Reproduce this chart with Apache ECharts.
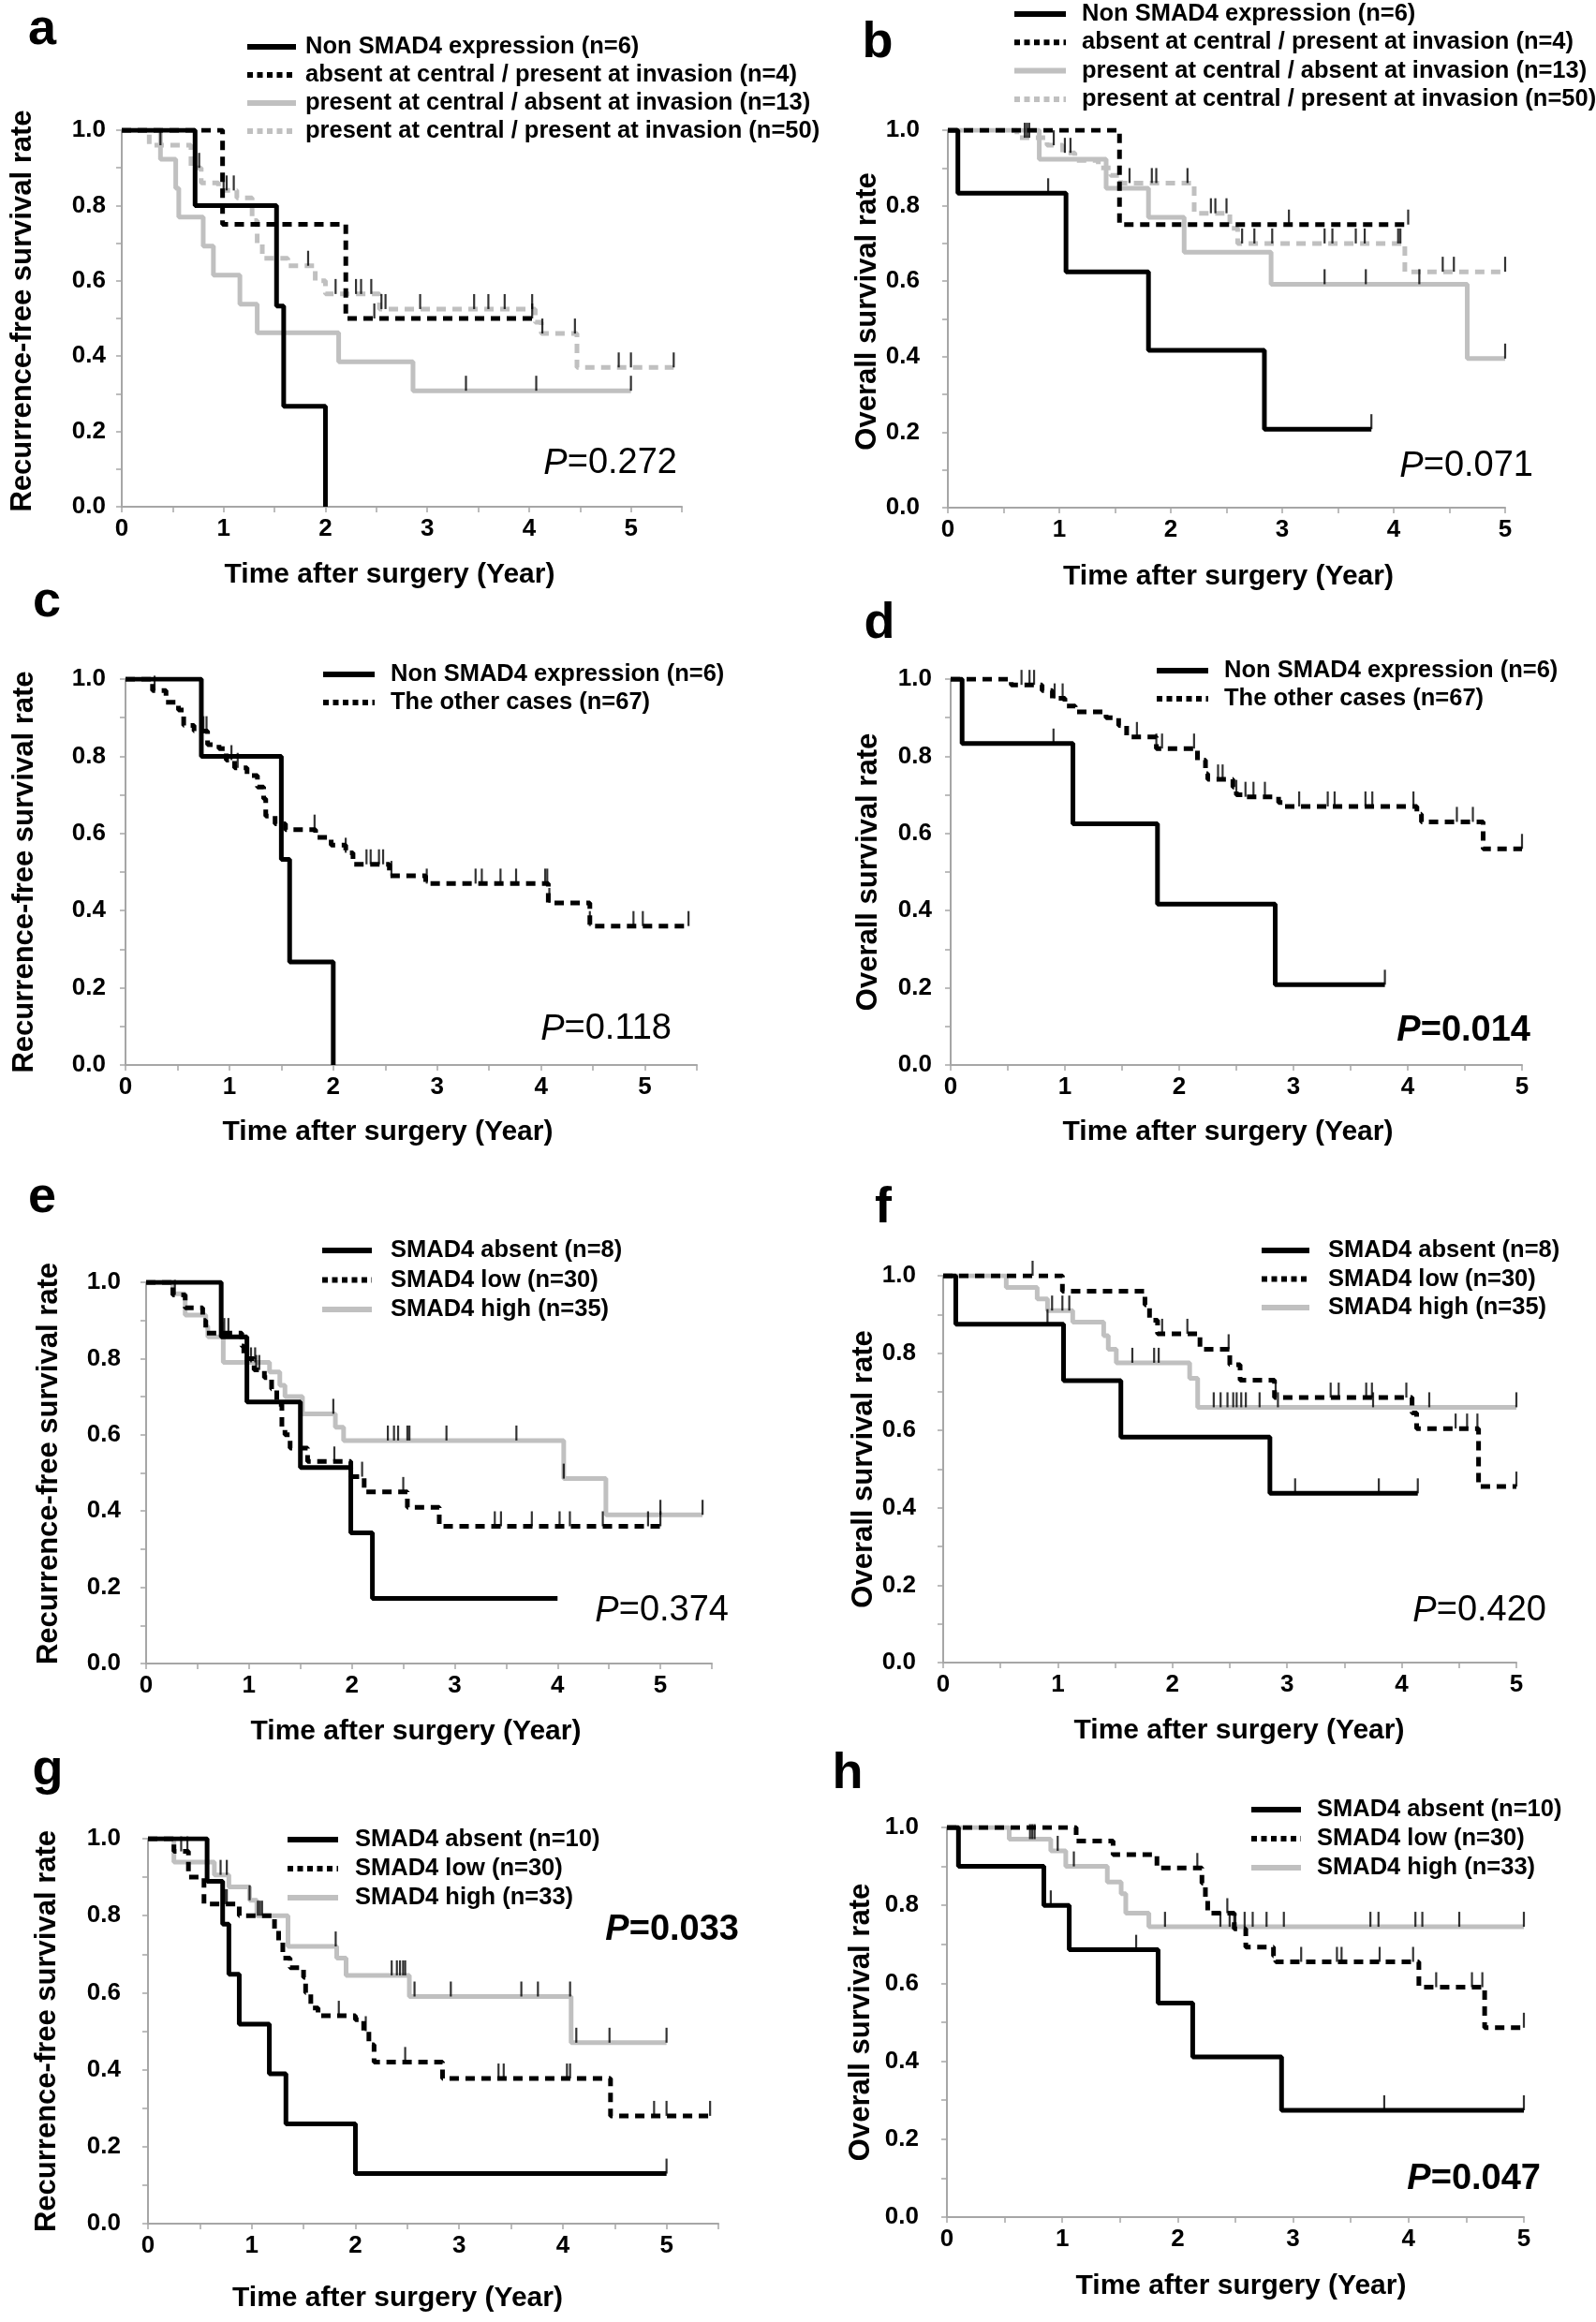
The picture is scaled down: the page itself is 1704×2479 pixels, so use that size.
<!DOCTYPE html>
<html><head><meta charset="utf-8">
<script src="https://cdn.jsdelivr.net/npm/echarts/dist/echarts.min.js"></script>
<style>html,body{margin:0;padding:0;background:#fff}#c{width:1704px;height:2479px}</style>
</head><body><div id="c"></div>
<script>
// ---------------- DATA (Kaplan–Meier step points: time T, survival S, censor times C) ----------------
// a: RFS, four groups
const A_non_T = [0, 0.72, 1.52, 1.59, 2.0];
const A_non_S = [1, 0.8, 0.533, 0.267, 0];
const A_non_C = [];
const A_abs_T = [0, 0.99, 2.2, 4.03];
const A_abs_S = [1, 0.75, 0.5, 0.5];
const A_abs_C = [2.48, 4.03];
const A_pca_T = [0, 0.38, 0.53, 0.56, 0.8, 0.9, 1.16, 1.33, 2.13, 2.86, 5.0];
const A_pca_S = [1, 0.923, 0.846, 0.769, 0.692, 0.615, 0.538, 0.462, 0.385, 0.308, 0.308];
const A_pca_C = [3.38, 4.07, 5.0];
const A_pp_T = [0, 0.27, 0.68, 0.78, 0.95, 1.13, 1.28, 1.33, 1.38, 1.63, 1.9, 2.0, 2.53, 4.06, 4.12, 4.47, 5.42];
const A_pp_S = [1, 0.96, 0.90, 0.86, 0.84, 0.82, 0.76, 0.70, 0.66, 0.64, 0.60, 0.565, 0.525, 0.49, 0.46, 0.37, 0.37];
const A_pp_C = [0.38, 0.72, 0.76, 1.0, 1.03, 1.1, 1.83, 2.1, 2.3, 2.35, 2.45, 2.55, 2.59, 2.93, 3.46, 3.6, 3.76, 4.03, 4.13, 4.45, 4.88, 5.0, 5.42];
// b: OS, four groups
const B_non_T = [0, 0.09, 1.06, 1.8, 2.84, 3.8];
const B_non_S = [1, 0.833, 0.625, 0.417, 0.208, 0.208];
const B_non_C = [0.9, 3.8];
const B_abs_T = [0, 1.54, 4.13];
const B_abs_S = [1, 0.75, 0.75];
const B_abs_C = [3.06, 4.13];
const B_pca_T = [0, 0.82, 1.42, 1.8, 2.12, 2.9, 4.66, 5.0];
const B_pca_S = [1, 0.923, 0.846, 0.769, 0.677, 0.592, 0.395, 0.395];
const B_pca_C = [3.38, 3.75, 4.23, 5.0];
const B_pp_T = [0, 0.62, 0.89, 1.03, 1.14, 1.35, 1.46, 1.55, 2.21, 2.53, 2.6, 4.1, 5.0];
const B_pp_S = [1, 0.98, 0.96, 0.94, 0.92, 0.90, 0.88, 0.86, 0.78, 0.74, 0.70, 0.625, 0.625];
const B_pp_C = [0.69, 0.71, 0.73, 0.95, 1.05, 1.1, 1.63, 1.83, 1.87, 2.15, 2.36, 2.4, 2.5, 2.64, 2.75, 2.91, 3.38, 3.45, 3.66, 3.74, 4.04, 4.06, 4.44, 4.54, 5.0];
// c: RFS, two groups
const C_non_T = [0, 0.73, 1.5, 1.58, 2.0];
const C_non_S = [1, 0.8, 0.533, 0.267, 0];
const C_non_C = [];
const C_oth_T = [0, 0.26, 0.39, 0.51, 0.56, 0.66, 0.79, 0.9, 0.97, 1.05, 1.17, 1.27, 1.33, 1.35, 1.44, 1.54, 1.83, 1.98, 2.12, 2.19, 2.54, 2.89, 4.07, 4.47, 5.42];
const C_oth_S = [1, 0.97, 0.94, 0.92, 0.88, 0.865, 0.83, 0.82, 0.79, 0.77, 0.75, 0.72, 0.69, 0.645, 0.625, 0.61, 0.59, 0.57, 0.55, 0.52, 0.49, 0.47, 0.42, 0.36, 0.36];
const C_oth_C = [0.28, 0.75, 0.78, 1.02, 1.08, 1.82, 2.12, 2.32, 2.36, 2.44, 2.48, 2.56, 2.9, 3.37, 3.43, 3.61, 3.76, 4.04, 4.06, 4.08, 4.47, 4.89, 4.98, 5.42];
// d: OS, two groups
const D_non_T = [0, 0.1, 1.07, 1.81, 2.84, 3.8];
const D_non_S = [1, 0.833, 0.625, 0.417, 0.208, 0.208];
const D_non_C = [0.9, 3.8];
const D_oth_T = [0, 0.53, 0.8, 0.89, 1.0, 1.09, 1.36, 1.47, 1.54, 1.8, 2.16, 2.23, 2.25, 2.47, 2.5, 2.58, 2.87, 2.92, 4.08, 4.12, 4.66, 5.0];
const D_oth_S = [1, 0.985, 0.97, 0.95, 0.93, 0.915, 0.90, 0.88, 0.85, 0.82, 0.79, 0.755, 0.74, 0.72, 0.70, 0.695, 0.68, 0.67, 0.65, 0.63, 0.56, 0.56];
const D_oth_C = [0.62, 0.69, 0.73, 0.91, 0.98, 1.63, 1.8, 1.85, 2.13, 2.34, 2.38, 2.5, 2.58, 2.65, 2.75, 3.05, 3.3, 3.36, 3.63, 3.69, 4.05, 4.43, 4.57, 5.0];
// e: RFS, three groups
const E_abs_T = [0, 0.73, 0.98, 1.5, 1.99, 2.2, 4.0];
const E_abs_S = [1, 0.857, 0.686, 0.514, 0.343, 0.171, 0.171];
const E_abs_C = [];
const E_low_T = [0, 0.26, 0.38, 0.55, 0.58, 0.93, 0.95, 1.05, 1.15, 1.22, 1.27, 1.32, 1.35, 1.4, 1.57, 1.99, 2.12, 2.54, 2.85, 5.0];
const E_low_S = [1, 0.967, 0.933, 0.9, 0.867, 0.833, 0.80, 0.77, 0.75, 0.72, 0.68, 0.62, 0.60, 0.565, 0.53, 0.49, 0.45, 0.41, 0.36, 0.36];
const E_low_C = [0.28, 0.76, 0.8, 1.07, 1.1, 1.83, 2.1, 2.5, 3.39, 3.45, 3.75, 4.02, 4.12, 4.44, 4.88, 5.0];
const E_high_T = [0, 0.26, 0.38, 0.58, 0.6, 0.75, 1.2, 1.3, 1.35, 1.52, 1.84, 1.92, 4.06, 4.47, 5.41];
const E_high_S = [1, 0.97, 0.914, 0.885, 0.857, 0.79, 0.765, 0.73, 0.70, 0.655, 0.62, 0.585, 0.485, 0.39, 0.39];
const E_high_C = [0.72, 0.74, 1.02, 1.06, 1.82, 2.35, 2.41, 2.45, 2.54, 2.56, 2.92, 3.6, 4.06, 5.0, 5.41];
// f: OS, three groups
const F_abs_T = [0, 0.11, 1.05, 1.55, 2.85, 4.14];
const F_abs_S = [1, 0.875, 0.729, 0.583, 0.4375, 0.4375];
const F_abs_C = [0.91, 3.07, 3.8, 4.14];
const F_low_T = [0, 1.04, 1.76, 1.8, 1.87, 2.24, 2.5, 2.59, 2.89, 4.09, 4.13, 4.67, 5.0];
const F_low_S = [1, 0.96, 0.925, 0.885, 0.85, 0.81, 0.77, 0.73, 0.685, 0.645, 0.605, 0.455, 0.455];
const F_low_C = [0.78, 1.91, 2.13, 2.49, 2.9, 3.38, 3.45, 3.69, 3.74, 4.04, 4.47, 4.57, 4.66, 5.0];
const F_high_T = [0, 0.55, 0.82, 0.91, 1.13, 1.4, 1.44, 1.51, 2.15, 2.22, 5.0];
const F_high_S = [1, 0.97, 0.94, 0.91, 0.88, 0.845, 0.81, 0.775, 0.735, 0.66, 0.66];
const F_high_C = [0.95, 1.04, 1.1, 1.65, 1.84, 1.88, 2.36, 2.42, 2.48, 2.53, 2.56, 2.6, 2.64, 2.76, 2.92, 3.75, 4.24, 5.0];
// g: RFS, three groups
const G_abs_T = [0, 0.57, 0.72, 0.78, 0.88, 1.17, 1.33, 2.0, 5.0];
const G_abs_S = [1, 0.889, 0.778, 0.648, 0.518, 0.389, 0.259, 0.13, 0.13];
const G_abs_C = [5.0];
const G_low_T = [0, 0.25, 0.39, 0.54, 0.88, 1.22, 1.26, 1.3, 1.37, 1.5, 1.52, 1.57, 1.64, 2.0, 2.08, 2.13, 2.18, 2.84, 4.46, 5.42];
const G_low_S = [1, 0.967, 0.9, 0.83, 0.8, 0.765, 0.73, 0.69, 0.665, 0.64, 0.60, 0.56, 0.54, 0.53, 0.50, 0.465, 0.42, 0.377, 0.28, 0.28];
const G_low_C = [0.32, 0.38, 0.74, 0.76, 1.08, 1.84, 2.1, 2.48, 3.38, 3.43, 4.04, 4.07, 4.88, 5.0, 5.42];
const G_high_T = [0, 0.25, 0.64, 0.78, 0.98, 1.05, 1.35, 1.82, 1.91, 2.52, 4.08, 5.0];
const G_high_S = [1, 0.939, 0.906, 0.875, 0.84, 0.80, 0.72, 0.69, 0.645, 0.59, 0.47, 0.47];
const G_high_C = [0.7, 0.76, 0.98, 1.06, 1.1, 1.81, 2.35, 2.4, 2.43, 2.46, 2.48, 2.57, 2.92, 3.6, 3.76, 4.07, 4.13, 4.45, 5.0];
// h: OS, three groups
const H_abs_T = [0, 0.1, 0.84, 1.06, 1.83, 2.13, 2.9, 5.0];
const H_abs_S = [1, 0.9, 0.8, 0.686, 0.549, 0.411, 0.274, 0.274];
const H_abs_C = [0.9, 1.64, 3.79, 5.0];
const H_low_T = [0, 1.12, 1.44, 1.82, 2.21, 2.24, 2.26, 2.49, 2.59, 2.83, 2.85, 4.09, 4.66, 5.0];
const H_low_S = [1, 0.965, 0.93, 0.896, 0.857, 0.82, 0.78, 0.74, 0.693, 0.67, 0.655, 0.59, 0.486, 0.486];
const H_low_C = [2.17, 2.43, 2.5, 3.07, 3.38, 3.42, 3.75, 4.04, 4.24, 4.55, 4.64, 5.0];
const H_high_T = [0, 0.54, 0.9, 1.03, 1.39, 1.51, 1.55, 1.75, 5.0];
const H_high_S = [1, 0.97, 0.94, 0.90, 0.86, 0.83, 0.78, 0.745, 0.745];
const H_high_C = [0.72, 0.74, 0.76, 0.96, 1.1, 1.89, 2.37, 2.45, 2.49, 2.58, 2.65, 2.77, 2.92, 3.67, 3.74, 4.06, 4.12, 4.44, 5.0];

// labels
const NAMES_4 = ['Non SMAD4 expression (n=6)', 'absent at central / present at invasion (n=4)', 'present at central / absent at invasion (n=13)', 'present at central / present at invasion (n=50)'];
const NAMES_2 = ['Non SMAD4 expression (n=6)', 'The other cases (n=67)'];
const NAMES_EF = ['SMAD4 absent (n=8)', 'SMAD4 low (n=30)', 'SMAD4 high (n=35)'];
const NAMES_GH = ['SMAD4 absent (n=10)', 'SMAD4 low (n=30)', 'SMAD4 high (n=33)'];
const P_VALUES = ['0.272', '0.071', '0.118', '0.014', '0.374', '0.420', '0.033', '0.047'];
const PANEL_LETTERS = ['a', 'b', 'c', 'd', 'e', 'f', 'g', 'h'];
const Y_RFS = 'Recurrence-free survival rate';
const Y_OS = 'Overall survival rate';
const X_NAME = 'Time after surgery (Year)';

// ---------------- STYLE / LAYOUT ----------------
const SANS = "'Liberation Sans',Arial,Helvetica,sans-serif";
const STY = [
  {color: '#000000', type: 'solid', legDash: 'solid'},
  {color: '#000000', type: [10, 7], legDash: [6, 4.5]},
  {color: '#c0c0c0', type: 'solid', legDash: 'solid'},
  {color: '#c0c0c0', type: [10, 7], legDash: [6, 4.5]}
];

// xShift / yShift: offsets of the axis titles from the axis centre (px)
const panels = [
  {grid: {left: 130, top: 139, width: 598, height: 402}, xMax: 5.5, yName: Y_RFS, yGap: 90, xGap: 58, yLab: 17, xShift: -13, yShift: 8,
   letter: [45, 32], p: [723, 495], pBold: false, leg: {left: 261, top: 35, iw: 52, pad: 5, gap: 0},
   names: NAMES_4, curves: [[A_non_T, A_non_S, A_non_C], [A_abs_T, A_abs_S, A_abs_C], [A_pca_T, A_pca_S, A_pca_C], [A_pp_T, A_pp_S, A_pp_C]], sty: [0, 1, 2, 3]},
  {grid: {left: 1012, top: 139, width: 595, height: 403}, xMax: 5, yName: Y_OS, yGap: 54, xGap: 59, yLab: 30, xShift: 2, yShift: 8,
   letter: [937, 46], p: [1637, 498], pBold: false, leg: {left: 1080, top: 0, iw: 55, pad: 12, gap: 0.3},
   names: NAMES_4, curves: [[B_non_T, B_non_S, B_non_C], [B_abs_T, B_abs_S, B_abs_C], [B_pca_T, B_pca_S, B_pca_C], [B_pp_T, B_pp_S, B_pp_C]], sty: [0, 1, 2, 3]},
  {grid: {left: 134, top: 725, width: 610, height: 412}, xMax: 5.5, yName: Y_RFS, yGap: 92, xGap: 57, yLab: 21, xShift: -25, yShift: 0,
   letter: [50, 643], p: [717, 1099], pBold: false, leg: {left: 342, top: 705, iw: 55, pad: 12, gap: 0},
   names: NAMES_2, curves: [[C_non_T, C_non_S, C_non_C], [C_oth_T, C_oth_S, C_oth_C]], sty: [0, 1]},
  {grid: {left: 1015, top: 725, width: 610, height: 412}, xMax: 5, yName: Y_OS, yGap: 72, xGap: 57, yLab: 20, xShift: -9, yShift: 0,
   letter: [939, 666], p: [1634, 1101], pBold: true, leg: {left: 1232, top: 701, iw: 55, pad: 12, gap: 0},
   names: NAMES_2, curves: [[D_non_T, D_non_S, D_non_C], [D_oth_T, D_oth_S, D_oth_C]], sty: [0, 1]},
  {grid: {left: 156, top: 1369, width: 604, height: 407}, xMax: 5.5, yName: Y_RFS, yGap: 88, xGap: 58, yLab: 27, xShift: -14, yShift: 10,
   letter: [45, 1279], p: [778, 1720], pBold: false, leg: {left: 341, top: 1320, iw: 53, pad: 15, gap: 1.5},
   names: NAMES_EF, curves: [[E_abs_T, E_abs_S, E_abs_C], [E_low_T, E_low_S, E_low_C], [E_high_T, E_high_S, E_high_C]], sty: [0, 1, 2]},
  {grid: {left: 1007, top: 1362, width: 612, height: 413}, xMax: 5, yName: Y_OS, yGap: 64, xGap: 58, yLab: 29, xShift: 10, yShift: 0,
   letter: [943, 1290], p: [1651, 1720], pBold: false, leg: {left: 1344, top: 1320, iw: 51, pad: 15, gap: 0.5},
   names: NAMES_EF, curves: [[F_abs_T, F_abs_S, F_abs_C], [F_low_T, F_low_S, F_low_C], [F_high_T, F_high_S, F_high_C]], sty: [0, 1, 2]},
  {grid: {left: 158, top: 1963, width: 609, height: 411}, xMax: 5.5, yName: Y_RFS, yGap: 92, xGap: 65, yLab: 29, xShift: -38, yShift: 0,
   letter: [51, 1890], p: [789, 2061], pBold: true, leg: {left: 304, top: 1949, iw: 54, pad: 13, gap: 1},
   names: NAMES_GH, curves: [[G_abs_T, G_abs_S, G_abs_C], [G_low_T, G_low_S, G_low_C], [G_high_T, G_high_S, G_high_C]], sty: [0, 1, 2]},
  {grid: {left: 1011, top: 1951, width: 616, height: 416}, xMax: 5, yName: Y_OS, yGap: 76, xGap: 59, yLab: 30, xShift: 6, yShift: 0,
   letter: [905, 1894], p: [1645, 2327], pBold: true, leg: {left: 1333, top: 1917, iw: 53, pad: 12, gap: 1},
   names: NAMES_GH, curves: [[H_abs_T, H_abs_S, H_abs_C], [H_low_T, H_low_S, H_low_C], [H_high_T, H_high_S, H_high_C]], sty: [0, 1, 2]}
];

function stepAt(T, S, t) {
  let v = S[0];
  for (let k = 0; k < T.length; k++) if (T[k] <= t + 1e-9) v = S[k];
  return v;
}
function shiftPad(s) { return s < 0 ? [0, -2 * s, 0, 0] : [0, 0, 0, 2 * s]; }

const AXIS_GRAY = '#a6a6a6';
const grids = [], xAxes = [], yAxes = [], series = [], legends = [], graphics = [];

panels.forEach((pn, i) => {
  grids.push(Object.assign({containLabel: false}, pn.grid));
  xAxes.push({
    gridIndex: i, type: 'value', min: 0, max: pn.xMax, interval: 0.5,
    axisLine: {show: true, onZero: false, lineStyle: {color: AXIS_GRAY, width: 2}},
    axisTick: {show: true, length: 6, lineStyle: {color: AXIS_GRAY, width: 1.5}},
    splitLine: {show: false},
    axisLabel: {
      formatter: v => Math.abs(v - Math.round(v)) < 1e-6 ? String(Math.round(v)) : '',
      fontFamily: SANS, fontWeight: 'bold', fontSize: 26, color: '#000', margin: 11
    },
    name: X_NAME, nameLocation: 'middle', nameGap: pn.xGap,
    nameTextStyle: {fontFamily: SANS, fontWeight: 'bold', fontSize: 30, color: '#000', padding: shiftPad(pn.xShift)}
  });
  yAxes.push({
    gridIndex: i, type: 'value', min: 0, max: 1, interval: 0.1,
    axisLine: {show: true, lineStyle: {color: AXIS_GRAY, width: 2}},
    axisTick: {show: true, length: 6, lineStyle: {color: AXIS_GRAY, width: 1.5}},
    splitLine: {show: false},
    axisLabel: {
      formatter: v => { const k = Math.round(v * 10); return k % 2 === 0 ? (k / 10).toFixed(1) : ''; },
      fontFamily: SANS, fontWeight: 'bold', fontSize: 26, color: '#000', margin: pn.yLab
    },
    name: pn.yName, nameLocation: 'middle', nameGap: pn.yGap,
    nameTextStyle: {fontFamily: SANS, fontWeight: 'bold', fontSize: 31, color: '#000', padding: shiftPad(pn.yShift)}
  });
  // draw gray first, black on top
  const order = pn.curves.map((c, j) => j).sort((a, b) => pn.sty[b] - pn.sty[a]);
  order.forEach(j => {
    const [T, S, C] = pn.curves[j];
    const st = STY[pn.sty[j]];
    series.push({
      type: 'line', name: pn.names[j], xAxisIndex: i, yAxisIndex: i, step: 'end',
      symbol: 'none', showSymbol: false, silent: true, animation: false, z: 2 + (3 - pn.sty[j]) * 0.1,
      data: T.map((t, k) => [t, S[k]]),
      lineStyle: {width: 5, color: st.color, type: st.type, cap: 'butt'},
      itemStyle: {color: st.color}
    });
    if (C.length) {
      series.push({
        type: 'scatter', name: 'censor_' + i + '_' + j, xAxisIndex: i, yAxisIndex: i,
        symbol: 'rect', symbolSize: [2.2, 16], symbolOffset: [0, -8], silent: true, animation: false, z: 5,
        itemStyle: {color: '#000'},
        data: C.map(t => [t, stepAt(T, S, t)])
      });
    }
  });
  legends.push({
    orient: 'vertical', left: pn.leg.left, top: pn.leg.top, padding: 0,
    itemWidth: pn.leg.iw, itemHeight: 14, itemGap: pn.leg.gap, selectedMode: false,
    itemStyle: {opacity: 0},
    lineStyle: {width: 6},
    textStyle: {fontFamily: SANS, fontWeight: 'bold', fontSize: 25.5, lineHeight: 30, color: '#000', padding: [0, 0, 0, pn.leg.pad]},
    data: pn.names.map((nm, j) => ({name: nm, lineStyle: {width: 6, type: STY[pn.sty[j]].legDash, color: STY[pn.sty[j]].color}}))
  });
  graphics.push({
    type: 'text', x: pn.letter[0], y: pn.letter[1], silent: true,
    style: {text: PANEL_LETTERS[i], fontFamily: SANS, fontWeight: 'bold', fontSize: 54, fill: '#000', align: 'center', verticalAlign: 'middle'}
  });
  const w = pn.pBold ? 'bold' : 'normal';
  graphics.push({
    type: 'text', x: pn.p[0], y: pn.p[1], silent: true,
    style: {
      text: '{i|P}{n|=' + P_VALUES[i] + '}', align: 'right', verticalAlign: 'middle',
      rich: {
        i: {fontFamily: SANS, fontStyle: 'italic', fontWeight: w, fontSize: 38, fill: '#000', color: '#000'},
        n: {fontFamily: SANS, fontWeight: w, fontSize: 38, fill: '#000', color: '#000'}
      }
    }
  });
});

const chart = echarts.init(document.getElementById('c'), null, {renderer: 'canvas'});
chart.setOption({
  backgroundColor: '#ffffff',
  animation: false,
  grid: grids, xAxis: xAxes, yAxis: yAxes, series: series, legend: legends, graphic: graphics
});
</script></body></html>
